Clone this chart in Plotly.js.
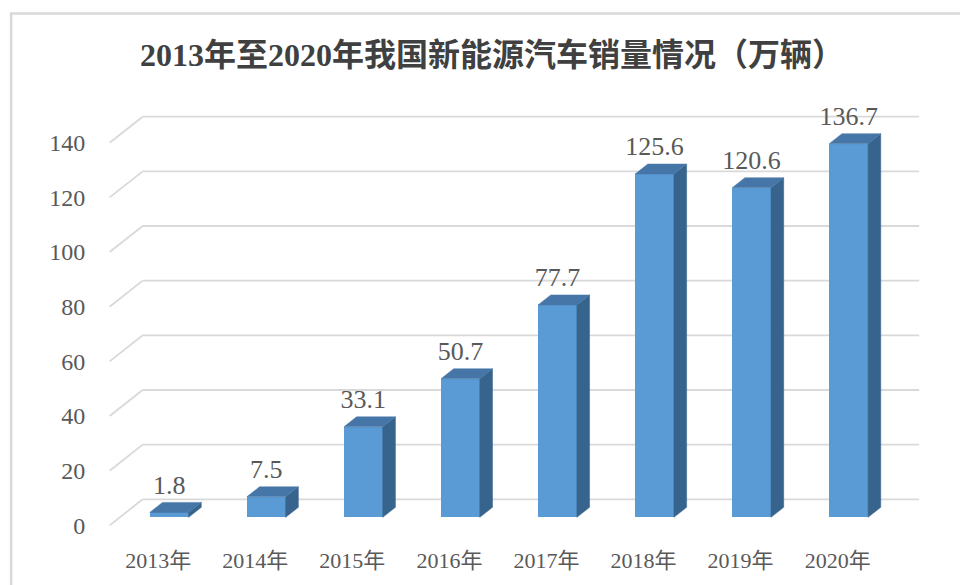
<!DOCTYPE html>
<html>
<head>
<meta charset="utf-8">
<script src="https://cdn.plot.ly/plotly-3.0.1.min.js"></script>
<style>html,body{margin:0;padding:0;background:#fff;}#chart{width:960px;height:585px;}</style>
</head>
<body>
<div id="chart"></div>
<script>
// ---- data ----
const categories = ["2013年","2014年","2015年","2016年","2017年","2018年","2019年","2020年"];
const sales = [1.8, 7.5, 33.1, 50.7, 77.7, 125.6, 120.6, 136.7];
const yTicks = [0, 20, 40, 60, 80, 100, 120, 140];
const titleText = "2013年至2020年我国新能源汽车销量情况（万辆）";

// ---- layout constants (pixels) ----
const W = 960, H = 585;
const pxPerCat = 97, pxPerUnit = 2.7286;
const xRange = [-0.62, 7.9], yRange = [-5, 156];
const plotL = 110 - (-0.5 - xRange[0]) * pxPerCat;
const plotR = 886 + (xRange[1] - 7.5) * pxPerCat;
const plotB = 525 + (0 - yRange[0]) * pxPerUnit;
const plotT = 143 - (yRange[1] - 140) * pxPerUnit;

// 3D offsets in data units
const DX = 33 / pxPerCat, DY = 26 / pxPerUnit;      // back wall
const BFX = 11 / pxPerCat, BFY = 8 / pxPerUnit;     // bar front plane
const BDX = 12.7 / pxPerCat, BDY = 10 / pxPerUnit;  // bar depth
const BW = 0.4;

const font = "'Liberation Serif', 'Times New Roman', 'Noto Sans CJK SC', serif";
const textColor = "#595959";
const gridColor = "#d9d9d9";
const frontColor = "#5b9bd5", topColor = "#4676a7", sideColor = "#37648c";

const idx = categories.map((c, i) => i);
const traces = [];
const shapes = [];

// back wall gridlines and left side-wall diagonals (below the bars)
yTicks.forEach(v => {
  shapes.push({type:"line", xref:"x", yref:"y", layer:"below",
    x0:-0.5 + DX, x1:7.5 + DX, y0:v + DY, y1:v + DY, line:{color:gridColor, width:1.8}});
  shapes.push({type:"line", xref:"x", yref:"y", layer:"below",
    x0:-0.5, x1:-0.5 + DX, y0:v, y1:v + DY, line:{color:gridColor, width:1.8}});
});

// bar side and top faces
idx.forEach(i => {
  const v = sales[i];
  const xl = i + BFX - BW / 2, xr = i + BFX + BW / 2;
  const y0 = BFY, y1 = BFY + v;
  traces.push({type:"scatter", mode:"lines", fill:"toself", fillcolor:sideColor,
    x:[xr, xr + BDX, xr + BDX, xr, xr], y:[y0, y0 + BDY, y1 + BDY, y1, y0],
    line:{width:0.5, color:sideColor}, hoverinfo:"skip", showlegend:false});
  traces.push({type:"scatter", mode:"lines", fill:"toself", fillcolor:topColor,
    x:[xl, xr, xr + BDX, xl + BDX, xl], y:[y1, y1, y1 + BDY, y1 + BDY, y1],
    line:{width:0.5, color:topColor}, hoverinfo:"skip", showlegend:false});
});

// bar front faces
traces.push({type:"bar", x:idx.map(i => i + BFX), y:sales, base:BFY, width:BW,
  marker:{color:frontColor, line:{width:0}}, hoverinfo:"y", showlegend:false});

// data labels
traces.push({type:"scatter", mode:"text", x:idx.map(i => i + BFX), y:sales.map(v => v + BFY + BDY + 0.8),
  text:sales.map(v => v.toFixed(1)), textposition:"top center",
  textfont:{family:font, size:26, color:textColor}, hoverinfo:"skip", showlegend:false, cliponaxis:false});

const plotW = plotR - plotL, plotH = plotB - plotT;
const px2paperX = p => (p - plotL) / plotW;
const px2paperY = p => (plotB - p) / plotH;

shapes.push({type: "path", xref: "paper", yref: "paper",
  path: "M " + px2paperX(11.5) + " " + px2paperY(H + 5) + " L " + px2paperX(11.5) + " " + px2paperY(14) +
        " L " + px2paperX(W + 5) + " " + px2paperY(14),
  line: {color: "#d9d9d9", width: 2.5}});

const layout = {
  width: W, height: H,
  margin: {l: plotL, r: W - plotR, t: plotT, b: H - plotB, pad: 0},
  paper_bgcolor: "#ffffff", plot_bgcolor: "rgba(0,0,0,0)",
  title: {text: "<b>" + titleText + "</b>", x: 492 / W, xref: "container", xanchor: "center",
    y: 1 - 55 / H, yref: "container", yanchor: "middle",
    font: {family: font, size: 32, color: "#404040"}},
  xaxis: {range: xRange, tickvals: idx, ticktext: categories, showgrid: false, zeroline: false,
    showline: false, ticks: "outside", ticklen: 2, tickcolor: "rgba(0,0,0,0)",
    tickfont: {family: font, size: 22, color: textColor}, fixedrange: true},
  yaxis: {range: yRange, tickvals: yTicks, showgrid: false, zeroline: false, showline: false,
    ticks: "outside", ticklen: 7, tickcolor: "rgba(0,0,0,0)",
    tickfont: {family: font, size: 24, color: textColor}, fixedrange: true},
  bargap: 0,
  shapes: shapes
};

Plotly.newPlot("chart", traces, layout, {displayModeBar: false, staticPlot: true});
</script>
</body>
</html>
